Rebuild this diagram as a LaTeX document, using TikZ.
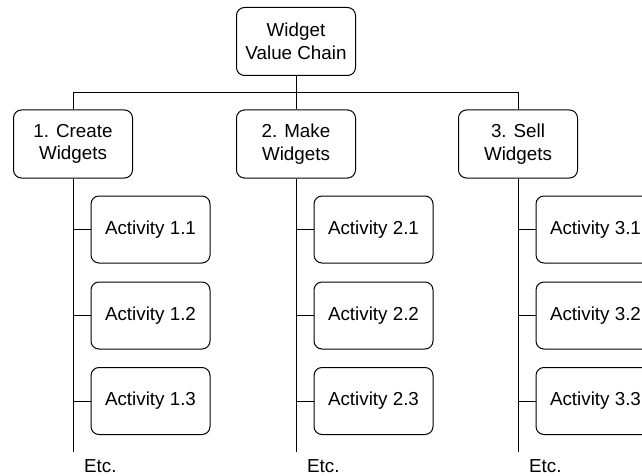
\documentclass[tikz,border=0pt]{standalone}
\usepackage{fontspec}
\setmainfont{Liberation Sans}
\begin{document}
\begin{tikzpicture}[x=1pt,y=-1pt,
  box/.style={draw, line width=1pt, rounded corners=8pt, align=center,
    minimum width=119pt, minimum height=68pt, inner sep=0pt,
    font=\fontsize{18.8}{22.6}\selectfont},
  act/.style={box, minimum height=67pt},
  conn/.style={line width=1pt},
  etc/.style={anchor=base west, inner sep=0pt, font=\fontsize{18.8}{22.6}\selectfont}]
\useasboundingbox (0,0) rectangle (642,476);
\node[box] (top) at (296,41.5) {Widget\\Value Chain};
\node[box] (c1) at (73,144) {1. Create\\Widgets};
\node[box] (c2) at (296,144) {2. Make\\Widgets};
\node[box] (c3) at (518,144) {3. Sell\\Widgets};
\foreach \c/\x/\n in {1/73/c1, 2/296/c2, 3/518/c3} {
  \node[act] (a\c1) at (\x+77.5,229.5) {Activity \c.1};
  \node[act] (a\c2) at (\x+77.5,315.5) {Activity \c.2};
  \node[act] (a\c3) at (\x+77.5,401) {Activity \c.3};
  \coordinate (e\c) at (\x,452);
  \draw[conn] (\n.south) -- (e\c);
  \draw[conn] (a\c1.west -| \n.south) -- (a\c1.west);
  \draw[conn] (a\c2.west -| \n.south) -- (a\c2.west);
  \draw[conn] (a\c3.west -| \n.south) -- (a\c3.west);
  \node[etc] (etc\c) at (\x+11,472) {Etc.};
}
\draw[conn] (top.south) -- ++(0,16.5) -| (c1.north);
\draw[conn] (top.south) -- ++(0,16.5) -| (c3.north);
\draw[conn] (top.south) -- (c2.north);
\end{tikzpicture}
\end{document}
